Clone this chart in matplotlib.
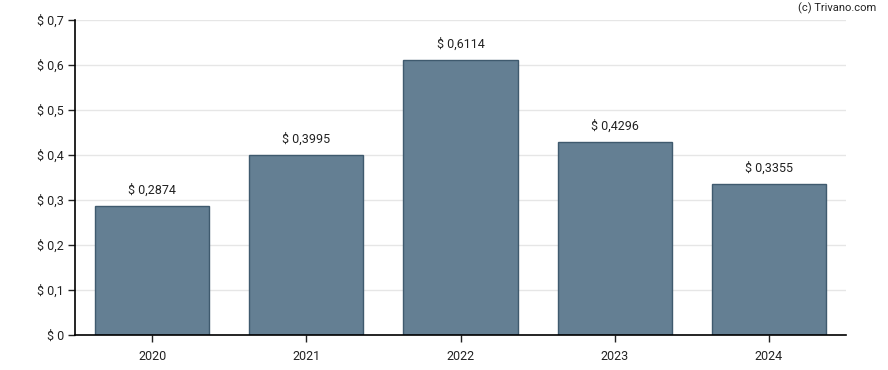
import matplotlib
matplotlib.use("Agg")
import matplotlib.pyplot as plt

years = ["2020", "2021", "2022", "2023", "2024"]
values = [0.2874, 0.3995, 0.6114, 0.4296, 0.3355]
ticks = [0, 0.1, 0.2, 0.3, 0.4, 0.5, 0.6, 0.7]

plt.rcParams['font.family'] = ['Roboto', 'DejaVu Sans']

fig = plt.figure(figsize=(8.88, 3.70), dpi=100)
ax = fig.add_axes([75/888, 35/370, 771/888, 315/370])

x = list(range(len(years)))
ax.bar(x, values, width=0.74, color='#647f93', edgecolor='#3f5a6e', linewidth=1, zorder=2)

# value labels above bars
for xi, v in zip(x, values):
    ax.text(xi, v + 0.02, "$ " + f"{v:.4f}".replace(".", ","), ha='center', va='bottom',
            fontsize=9, color='#222222')

ax.set_xlim(-0.5, 4.5)
ax.set_ylim(0, 0.7)
ax.set_xticks(x)
ax.set_xticklabels(years)
ax.set_yticks(ticks)
ax.set_yticklabels(["$ 0" if t == 0 else "$ " + f"{t:.1f}".replace(".", ",") for t in ticks])
ax.tick_params(axis='both', labelsize=9, colors='#222222', length=5, width=1)
ax.tick_params(axis='x', pad=6)
ax.tick_params(axis='y', pad=3)
ax.yaxis.grid(True, color='#e6e6e6', linewidth=1, zorder=0)
ax.set_axisbelow(True)

for s in ['top', 'right']:
    ax.spines[s].set_visible(False)
for s in ['left', 'bottom']:
    ax.spines[s].set_color('black')
    ax.spines[s].set_linewidth(1.2)

fig.text(876/888, 1 - 8/370, "(c) Trivano.com", ha='right', va='center', fontsize=8, color='#222222')

fig.savefig("out.png", dpi=100)
